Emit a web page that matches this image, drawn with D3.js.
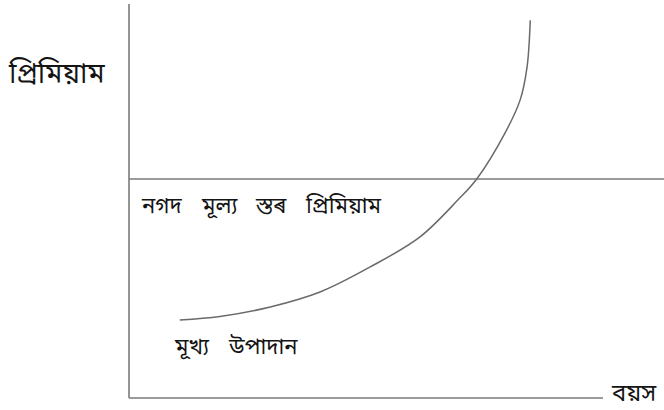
<!DOCTYPE html>
<html>
<head>
<meta charset="utf-8">
<script src="https://d3js.org/d3.v7.min.js"></script>
<style>
  body { margin: 0; background: #fff; }
  text { font-family: "Noto Sans Bengali", "Noto Sans", "DejaVu Sans", sans-serif; fill: #141414; }
</style>
</head>
<body>
<div id="chart"></div>
<script>
// canvas
var w = 664, h = 410;

// data (age on x, premium on y, both in 0-100 units)
var curveAge     = [9.5, 17.0, 26.4, 35.7, 45.0, 54.4, 61.5, 65.0, 70.3, 73.1, 74.4, 75.0];
var curvePremium = [19.8, 20.7, 23.1, 26.9, 33.2, 40.9, 50.3, 55.6, 67.3, 75.6, 84.0, 95.9];
var levelPremium = 55.6;
var axisAgeEnd = 88.6;
var lineAgeEnd = 100;

// label words
var yTitleWords = ["প্ৰিমিয়াম"];
var levelWords  = ["নগদ", "মূল্য", "স্তৰ", "প্ৰিমিয়াম"];
var curveWords  = ["মূখ্য", "উপাদান"];
var xTitleWords = ["বয়স"];

// scales
var xScale = d3.scaleLinear().domain([0, 100]).range([129, 664]);
var yScale = d3.scaleLinear().domain([0, 100]).range([398, 4]);

var svg = d3.select("#chart")
  .append("svg")
  .attr("width", w)
  .attr("height", h);

var stroke = "#7a7a7a";

// y axis
svg.append("line")
  .attr("x1", xScale(0)).attr("x2", xScale(0))
  .attr("y1", yScale(100)).attr("y2", yScale(0))
  .attr("stroke", stroke).attr("stroke-width", 1.6);

// x axis
svg.append("line")
  .attr("x1", xScale(0)).attr("x2", xScale(axisAgeEnd))
  .attr("y1", yScale(0)).attr("y2", yScale(0))
  .attr("stroke", stroke).attr("stroke-width", 1.6);

// level premium line
svg.append("line")
  .attr("x1", xScale(0)).attr("x2", xScale(lineAgeEnd))
  .attr("y1", yScale(levelPremium)).attr("y2", yScale(levelPremium))
  .attr("stroke", stroke).attr("stroke-width", 1.4);

// main curve
var pts = curveAge.map(function(a, i) { return [a, curvePremium[i]]; });
var line = d3.line()
  .x(function(d) { return xScale(d[0]); })
  .y(function(d) { return yScale(d[1]); })
  .curve(d3.curveCatmullRom.alpha(0.5));

svg.append("path")
  .datum(pts)
  .attr("d", line)
  .attr("fill", "none")
  .attr("stroke", "#6a6a6a")
  .attr("stroke-width", 1.5);

// labels, one text per word placed at its left edge
function wordLabel(words, lefts, baseline, size) {
  svg.append("g").selectAll("text")
    .data(words)
    .enter().append("text")
    .attr("x", function(d, i) { return lefts[i]; })
    .attr("y", baseline)
    .style("font-size", size + "px")
    .text(function(d) { return d; });
}

wordLabel(yTitleWords, [9], 83, 28);
wordLabel(levelWords, [142, 202, 256, 306], 213, 22);
wordLabel(curveWords, [175, 229], 354, 22);
wordLabel(xTitleWords, [612], 401, 24);
</script>
</body>
</html>
